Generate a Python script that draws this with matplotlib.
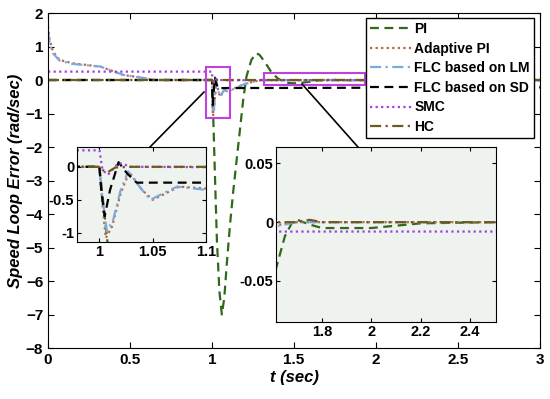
import numpy as np
import matplotlib
matplotlib.use('Agg')
import matplotlib.pyplot as plt
from matplotlib.patches import Rectangle

plt.rcParams['font.family'] = ['Liberation Sans', 'DejaVu Sans']
plt.rcParams['font.weight'] = 'bold'

# ---- data ----
t_pi = [0, 1.0, 1.01, 1.02, 1.03, 1.045, 1.06, 1.075, 1.09, 1.11, 1.13, 1.15, 1.17, 1.19,
        1.21, 1.24, 1.27, 1.29, 1.32, 1.36, 1.40, 1.45, 1.5, 1.55, 1.6, 1.62, 1.65, 1.68,
        1.7, 1.75, 1.8, 1.9, 2.0, 2.1, 2.2, 2.5, 3.0]
v_pi = [0, 0, -1.5, -3.2, -4.8, -6.3, -7.0, -6.5, -5.5, -4.3, -3.3, -2.4, -1.5, -0.6,
        0.1, 0.6, 0.8, 0.75, 0.55, 0.25, 0.05, -0.08, -0.1, -0.08, -0.05, -0.035, -0.012, 0.0,
        0.002, -0.002, -0.005, -0.005, -0.005, -0.003, -0.001, 0, 0]

t_api = [0, 0.01, 0.03, 0.07, 0.15, 0.32, 0.46, 0.56, 0.65, 1.0, 1.003, 1.006, 1.012, 1.02,
         1.028, 1.04, 1.05, 1.06, 1.075, 1.1, 1.15, 1.2, 1.25, 1.3, 1.6, 1.7, 3.0]
v_api = [1.6, 1.2, 0.85, 0.6, 0.5, 0.4, 0.15, 0.08, 0.0, 0.0, -0.6, -1.08, -0.9, -0.4,
         -0.08, -0.35, -0.5, -0.42, -0.3, -0.33, -0.22, -0.12, -0.05, 0.0, -0.003, 0.0, 0.0]

t_lm = [0, 0.01, 0.03, 0.07, 0.15, 0.32, 0.46, 0.56, 0.65, 1.0, 1.003, 1.007, 1.013, 1.02,
        1.027, 1.04, 1.048, 1.06, 1.073, 1.1, 1.15, 1.2, 1.25, 1.3, 1.6, 1.7, 3.0]
v_lm = [1.45, 1.1, 0.8, 0.58, 0.48, 0.4, 0.15, 0.08, 0.0, 0.0, -0.5, -0.98, -0.8, -0.35,
        -0.07, -0.35, -0.5, -0.4, -0.3, -0.35, -0.22, -0.12, -0.05, 0.0, -0.004, 0.0, 0.0]

t_sd = [0, 1.0, 1.002, 1.005, 1.01, 1.018, 1.026, 1.035, 1.1, 3.0]
v_sd = [0, 0, -0.4, -0.75, -0.35, 0.07, -0.1, -0.24, -0.24, -0.22]

t_smc = [0, 1.0, 1.003, 1.008, 1.018, 1.03, 1.1, 1.6, 3.0]
v_smc = [0.25, 0.25, -0.05, -0.12, 0.06, 0.0, -0.005, -0.008, -0.008]

t_hc = [0, 1.0, 1.003, 1.008, 1.015, 1.03, 1.7, 1.75, 1.8, 3.0]
v_hc = [0, 0, -0.05, -0.08, -0.01, 0.0, 0.0, 0.002, 0.0, 0.0]

labels = ['PI', 'Adaptive PI', 'FLC based on LM', 'FLC based on SD', 'SMC', 'HC']
series = [(t_pi, v_pi), (t_api, v_api), (t_lm, v_lm), (t_sd, v_sd), (t_smc, v_smc), (t_hc, v_hc)]
colors = ['#2f6a1a', '#b8683a', '#80a8e0', '#000000', '#a040e0', '#6e5a1e']
styles = [(0, (4, 2.5)), (0, (1, 1.5)), (0, (5, 2, 1, 2)), (0, (4, 2.5)), (0, (1, 1.5)), (0, (5, 2, 1, 2))]

zoom1 = [0.963, 1.11, -1.13, 0.39]   # x0, x1, y0, y1 of magenta box
zoom2 = [1.32, 1.93, -0.15, 0.2]
connectors = [((0.622, -2.0), (0.951, -0.36)), ((1.89, -2.0), (1.549, -0.12))]

fig = plt.figure(figsize=(5.5, 3.99), dpi=100)
ax = fig.add_axes([0.0873, 0.1278, 0.8945, 0.8396])


def draw(a, lw=1.6):
    for (t, v), c, s, lab in zip(series, colors, styles, labels):
        a.plot(t, v, color=c, linestyle=s, lw=lw, label=lab)


draw(ax)
ax.set_xlim(0, 3)
ax.set_ylim(-8, 2)
ax.set_xticks(np.arange(0, 3.01, 0.5))
ax.set_xticklabels(['0', '0.5', '1', '1.5', '2', '2.5', '3'])
ax.set_yticks(range(-8, 3))
ax.tick_params(direction='in', top=True, right=True, labelsize=11, length=4)
ax.set_xlabel('t (sec)', fontsize=12, fontstyle='italic', fontweight='bold', labelpad=2)
ax.set_ylabel('Speed Loop Error (rad/sec)', fontsize=12, fontstyle='italic', fontweight='bold', labelpad=2)

for z in (zoom1, zoom2):
    ax.add_patch(Rectangle((z[0], z[2]), z[1] - z[0], z[3] - z[2], fill=False,
                           edgecolor='#c040e0', lw=1.5, zorder=5))
for p, q in connectors:
    ax.plot([p[0], q[0]], [p[1], q[1]], color='black', lw=1.2, zorder=6)

leg = ax.legend(loc='upper right', bbox_to_anchor=(0.988, 0.985), fontsize=10, frameon=True,
                fancybox=False, handlelength=3.0, borderpad=0.3, labelspacing=0.4,
                handletextpad=0.2, borderaxespad=0)
leg.get_frame().set_edgecolor('black')
leg.get_frame().set_linewidth(1.0)
leg.get_frame().set_alpha(1)

bg = '#eef3ef'
ins1 = fig.add_axes([0.14, 0.3935, 0.2345, 0.238])
ins1.set_facecolor(bg)
draw(ins1)
ins1.set_xlim(0.979, 1.1)
ins1.set_ylim(-1.14, 0.3)
ins1.set_xticks([1, 1.05, 1.1])
ins1.set_xticklabels(['1', '1.05', '1.1'])
ins1.set_yticks([-1, -0.5, 0])
ins1.set_yticklabels(['-1', '-0.5', '0'])
ins1.tick_params(direction='in', top=True, right=True, labelsize=10.5, length=3, pad=2)

ins2 = fig.add_axes([0.5018, 0.193, 0.4, 0.4386])
ins2.set_facecolor(bg)
draw(ins2)
ins2.set_xlim(1.614, 2.505)
ins2.set_ylim(-0.085, 0.064)
ins2.set_xticks([1.8, 2.0, 2.2, 2.4])
ins2.set_xticklabels(['1.8', '2', '2.2', '2.4'])
ins2.set_yticks([-0.05, 0, 0.05])
ins2.set_yticklabels(['-0.05', '0', '0.05'])
ins2.tick_params(direction='in', top=True, right=True, labelsize=10.5, length=3, pad=2)

fig.savefig('out.png', dpi=100)
